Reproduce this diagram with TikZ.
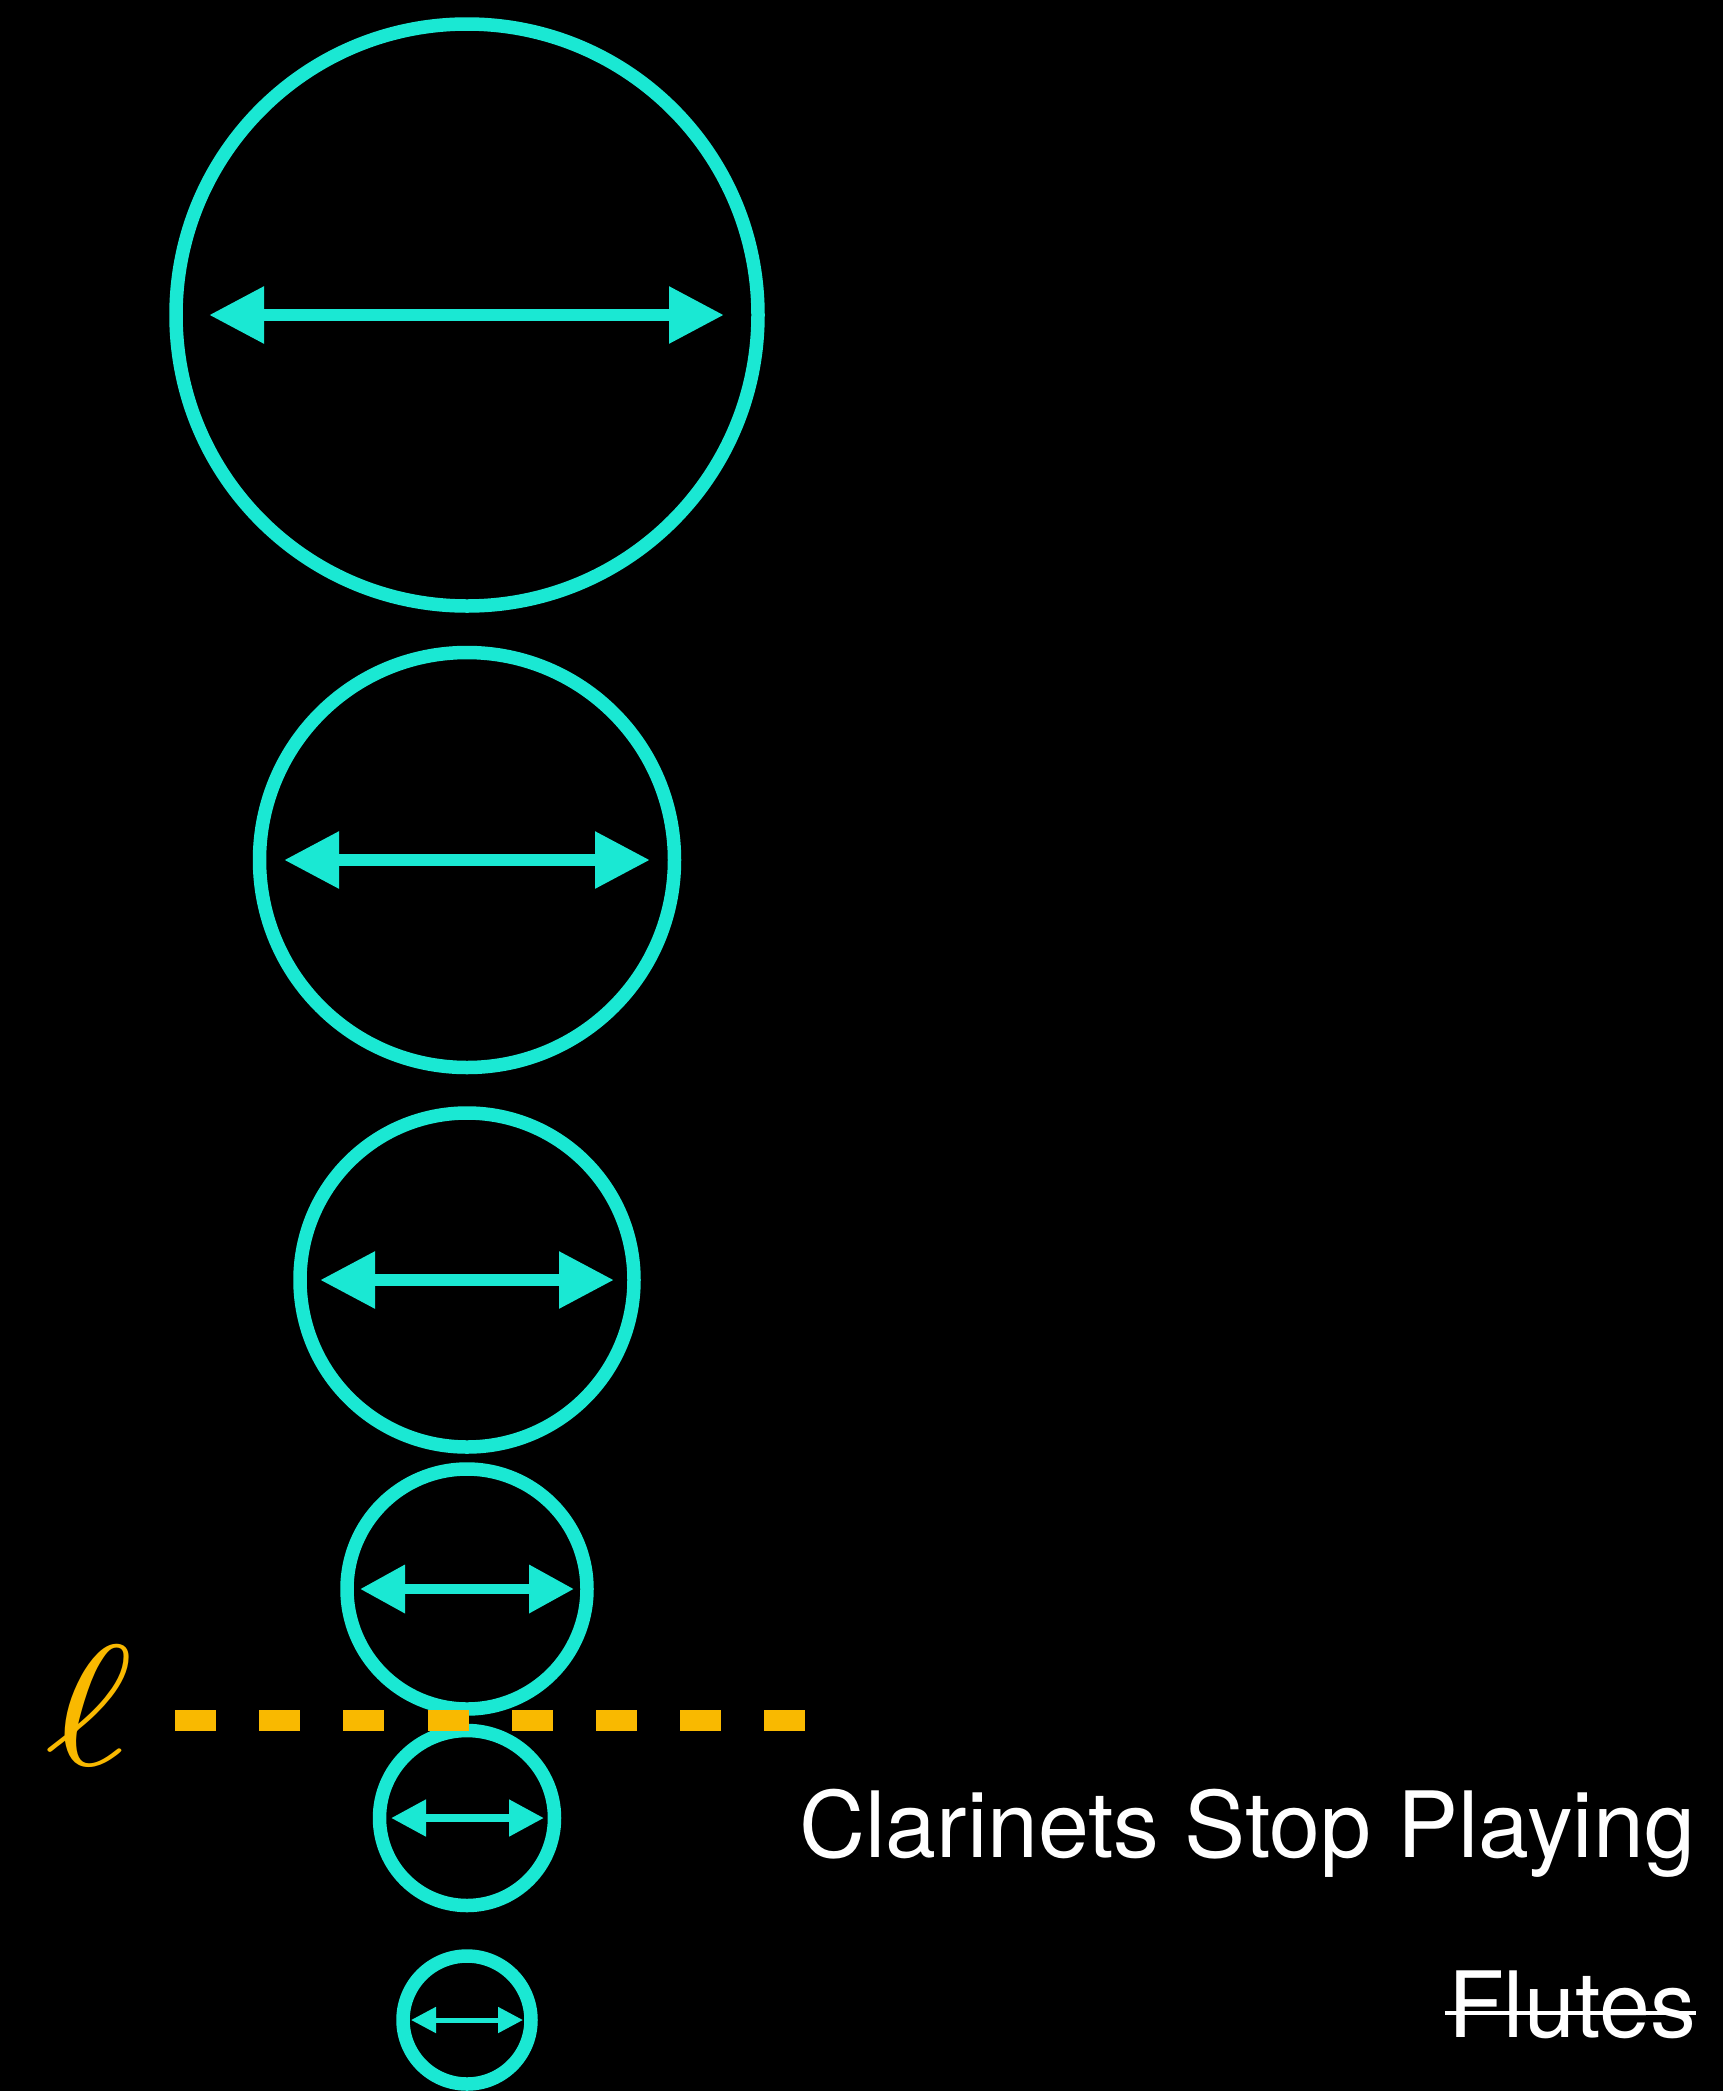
\documentclass[tikz,border=0pt]{standalone}
\usepackage{fontspec}
\newfontfamily\helv{TeX Gyre Heros}
\usetikzlibrary{arrows.meta}
\definecolor{ringc}{HTML}{1AE8D3}
\definecolor{amberl}{HTML}{F9B900}
\begin{document}
\begin{tikzpicture}[x=1pt,y=-1pt,
  ring/.style={circle,draw=ringc,line width=13.5pt,inner sep=0pt,outer sep=0pt},
  arrA/.style={draw=ringc,line width=12pt,arrows={Triangle[length=55pt,width=54pt]-Triangle[length=55pt,width=54pt]}},
  arrB/.style={draw=ringc,line width=10pt,arrows={Triangle[length=45pt,width=46pt]-Triangle[length=45pt,width=46pt]}},
  arrC/.style={draw=ringc,line width=8pt,arrows={Triangle[length=35pt,width=35pt]-Triangle[length=35pt,width=35pt]}},
  arrD/.style={draw=ringc,line width=5pt,arrows={Triangle[length=25pt,width=25pt]-Triangle[length=25pt,width=25pt]}},
  label/.style={anchor=base east,text=white,inner sep=0pt,font=\helv\fontsize{91.5}{100}\selectfont}]
\useasboundingbox (0,0) rectangle (1722,2091);
\fill[black] (-6,-6) rectangle (1728,2097);
% circles
\node[ring,minimum size=582pt] (c1) at (467,315) {};
\node[ring,minimum size=415pt] (c2) at (467,860) {};
\node[ring,minimum size=334pt] (c3) at (467,1280) {};
\node[ring,minimum size=240pt] (c4) at (467,1589) {};
\node[ring,minimum size=175pt] (c5) at (467,1818) {};
\node[ring,minimum size=128pt] (c6) at (467,2020) {};
% arrow ends
\coordinate (a1l) at (209,315); \coordinate (a1r) at (724,315);
\coordinate (a2l) at (284,860); \coordinate (a2r) at (650,860);
\coordinate (a3l) at (320,1280); \coordinate (a3r) at (614,1280);
\coordinate (a4l) at (360,1589); \coordinate (a4r) at (574,1589);
\coordinate (a5l) at (391,1818); \coordinate (a5r) at (544,1818);
\coordinate (a6l) at (411,2020); \coordinate (a6r) at (523,2020);
\draw[arrA] (a1l) -- (a1r);
\draw[arrA] (a2l) -- (a2r);
\draw[arrA] (a3l) -- (a3r);
\draw[arrB] (a4l) -- (a4r);
\draw[arrC] (a5l) -- (a5r);
\draw[arrD] (a6l) -- (a6r);
% dashed line l
\node[text=amberl,inner sep=0pt] (ell) at (89,1706) {\scalebox{21}[17.2]{$\ell$}};
\coordinate (d0) at (175,1720);
\coordinate (d1) at (806,1720);
\draw[amberl,line width=21pt,dash pattern=on 41pt off 43.2pt] (d0) -- (d1);
% labels
\node[label] (clar) at (1695,1857) {Clarinets Stop Playing};
\node[label] (flu) at (1696,2037) {Flutes};
\draw[white,line width=4.5pt] ([xshift=-3pt,yshift=24pt]flu.base west) -- ([yshift=24pt]flu.base east);
\end{tikzpicture}
\end{document}
